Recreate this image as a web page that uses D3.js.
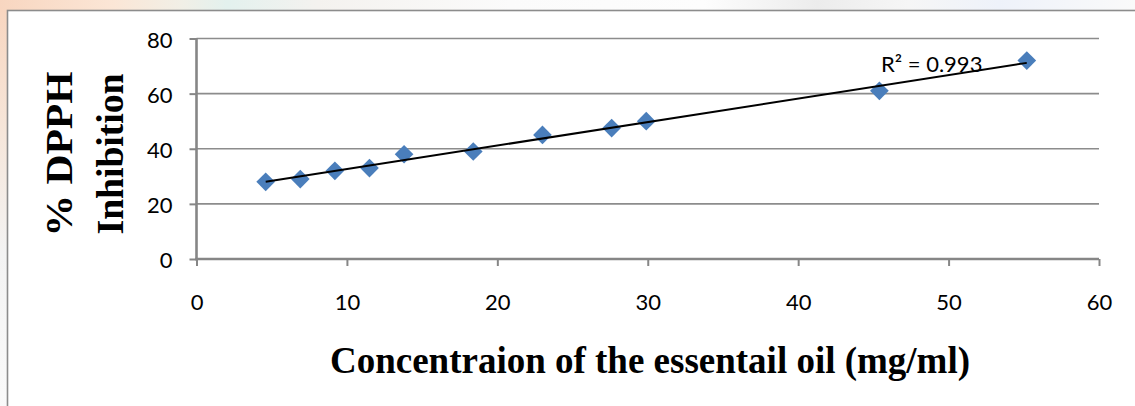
<!DOCTYPE html>
<html><head><meta charset="utf-8">
<script src="https://cdn.jsdelivr.net/npm/d3@7"></script>
<style>body{margin:0;background:#fff;overflow:hidden}</style>
</head><body><svg id="c" width="1135" height="406"></svg>
<script>
const concentration = [4.6, 6.9, 9.2, 11.5, 13.8, 18.4, 23.0, 27.6, 29.9, 45.4, 55.2];
const inhibition = [28, 29, 32, 33, 38, 39, 45, 47.5, 50, 61, 72];
const xTicks = [0, 10, 20, 30, 40, 50, 60];
const yTicks = [0, 20, 40, 60, 80];
const rSquaredLabel = "R\u00B2 = 0.993";
const xTitle = "Concentraion of the essentail oil (mg/ml)";
const yTitleLines = ["% DPPH", "Inhibition"];

const W = 1135, H = 406;
const svg = d3.select("#c");
const defs = svg.append("defs");
const g1 = defs.append("linearGradient").attr("id","wm").attr("x1","0").attr("x2","1").attr("y1","0").attr("y2","0");
[[0,"#f8d6c0"],[0.1,"#fbe6d6"],[0.16,"#f1efe6"],[0.2,"#e3f1ee"],[0.28,"#f4f2ef"],[0.45,"#fbfbfb"],[0.62,"#fdfdfd"],[0.72,"#ececec"],[0.8,"#f6f6f6"],[0.88,"#eef2fa"],[1,"#fafafa"]]
  .forEach(([o,c]) => g1.append("stop").attr("offset",o).attr("stop-color",c));
const g2 = defs.append("linearGradient").attr("id","wm2").attr("x1","0").attr("x2","0").attr("y1","0").attr("y2","1");
[[0,"#f8d6c0"],[0.3,"#f6e6da"],[0.6,"#f3f3f3"],[1,"#fafafa"]]
  .forEach(([o,c]) => g2.append("stop").attr("offset",o).attr("stop-color",c));
svg.append("rect").attr("x",0).attr("y",0).attr("width",W).attr("height",H).attr("fill","url(#wm)");
svg.append("rect").attr("x",0).attr("y",10).attr("width",8).attr("height",H).attr("fill","url(#wm2)");
svg.append("rect").attr("x",7.5).attr("y",10.5).attr("width",W+10).attr("height",H+10)
  .attr("fill","#fff").attr("stroke","#8c8c8c").attr("stroke-width",1.6);

const x = d3.scaleLinear().domain([0, 60]).range([196.5, 1099]);
const y = d3.scaleLinear().domain([0, 80]).range([259, 38.5]);

// gridlines
svg.append("g").selectAll("line").data(yTicks.filter(t => t > 0)).join("line")
  .attr("x1", x(0)).attr("x2", x(60)).attr("y1", d => y(d)).attr("y2", d => y(d))
  .attr("stroke", "#8c8c8c").attr("stroke-width", 1.6);

// y axis
const yAxis = svg.append("g").attr("transform", `translate(${x(0)},0)`)
  .call(d3.axisLeft(y).tickValues(yTicks).tickSize(7).tickPadding(17).tickFormat(d3.format("d")));
// x axis
const xAxis = svg.append("g").attr("transform", `translate(0,${y(0)})`)
  .call(d3.axisBottom(x).tickValues(xTicks).tickSize(7).tickPadding(28).tickFormat(d3.format("d")));
[yAxis, xAxis].forEach(a => {
  a.select(".domain").attr("stroke", "#868686").attr("stroke-width", 2.6);
  a.selectAll(".tick line").attr("stroke", "#868686").attr("stroke-width", 2);
  a.selectAll(".tick text").attr("fill", "#000").style("font-family", "Lato, 'Open Sans', sans-serif").style("font-size", "22px");
});
yAxis.select(".domain").attr("d", `M0,${y(80)-0.5}V${y(0)+1.3}`);
xAxis.select(".domain").attr("d", `M${x(0)-1.3},0H${x(60)}`);
yAxis.selectAll(".tick text").attr("dy", "0.4em");

// trendline via least squares
const n = concentration.length;
const mx = d3.mean(concentration), my = d3.mean(inhibition);
let sxy = 0, sxx = 0;
for (let i = 0; i < n; i++) { sxy += (concentration[i]-mx)*(inhibition[i]-my); sxx += (concentration[i]-mx)**2; }
const slope = sxy / sxx, icpt = my - slope * mx;
const x0 = d3.min(concentration), x1 = d3.max(concentration);

// points
const pts = concentration.map((c, i) => [c, inhibition[i]]);
svg.append("g").selectAll("path").data(pts).join("path")
  .attr("d", d3.symbol().type(d3.symbolSquare).size(175))
  .attr("transform", d => `translate(${x(d[0])},${y(d[1])}) rotate(45)`)
  .attr("fill", "#4a7ebb");

svg.append("line")
  .attr("x1", x(x0)).attr("y1", y(slope*x0 + icpt))
  .attr("x2", x(x1)).attr("y2", y(slope*x1 + icpt))
  .attr("stroke", "#000").attr("stroke-width", 2);

svg.append("text").attr("x", 881).attr("y", 71.5).text(rSquaredLabel)
  .style("font-family", "Lato, 'Open Sans', sans-serif").style("font-size", "22px").attr("fill", "#000");

// titles
svg.append("text").attr("x", 650).attr("y", 373).attr("text-anchor", "middle")
  .attr("textLength", 640).attr("lengthAdjust", "spacingAndGlyphs")
  .style("font-family", "'Liberation Serif', 'Times New Roman', serif").style("font-weight", "bold").style("font-size", "38px")
  .text(xTitle);

const yt = svg.append("g");
[[72, yTitleLines[0], 165], [123, yTitleLines[1], 161]].forEach(([bx, t, len]) => {
  yt.append("text").attr("transform", `translate(${bx},154) rotate(-90)`).attr("text-anchor", "middle")
    .attr("textLength", len).attr("lengthAdjust", "spacingAndGlyphs")
    .style("font-family", "'Liberation Serif', 'Times New Roman', serif").style("font-weight", "bold").style("font-size", "38px")
    .text(t);
});
</script></body></html>
